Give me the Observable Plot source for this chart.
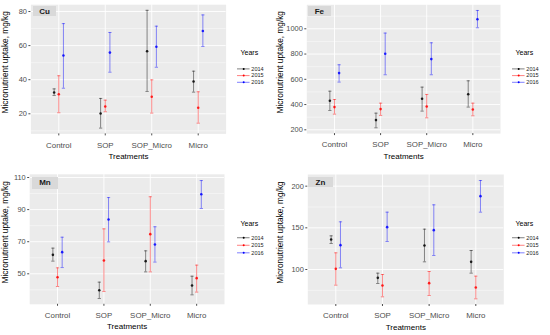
<!DOCTYPE html>
<html>
<head>
<meta charset="utf-8">
<script src="https://cdn.jsdelivr.net/npm/d3@7"></script>
<script src="https://cdn.jsdelivr.net/npm/@observablehq/plot@0.6"></script>
<style>
  html, body { margin: 0; padding: 0; background: #ffffff; }
  #root { position: relative; width: 550px; height: 335px; font-family: "Liberation Sans", Arial, sans-serif; }
  .cell { position: absolute; }
  .strip { position: absolute; background: #d9d9d9; color: #1a1a1a; font-weight: bold; font-size: 8px; display: flex; align-items: center; justify-content: center; }
</style>
</head>
<body>
<div id="root"></div>
<script>
// ---------- data ----------
const treatments = ["Control", "SOP", "SOP_Micro", "Micro"];
const years = ["2014", "2015", "2016"];
const yearColors = ["#000000", "#ff0000", "#0000ff"];

// order: Control(2014,2015,2016), SOP(...), SOP_Micro(...), Micro(...)
const cuMean = [32.5, 31.5, 54.2, 20.2, 24.3, 55.9, 56.7, 30.0, 59.3, 38.9, 23.5, 68.6];
const cuLow  = [30.7, 20.6, 35.0, 11.6, 21.2, 44.4, 33.1, 20.4, 47.3, 32.7, 14.5, 59.5];
const cuHigh = [34.6, 42.3, 72.9, 29.0, 28.0, 67.7, 80.7, 39.9, 71.4, 45.0, 32.9, 78.0];

const feMean = [430, 380, 649, 277, 364, 802, 446, 385, 760, 482, 361, 1076];
const feLow  = [353, 324, 578, 216, 314, 636, 348, 295, 636, 380, 311, 1008];
const feHigh = [506, 440, 715, 332, 411, 966, 538, 480, 889, 588, 411, 1145];

const mnMean = [61.8, 47.9, 63.5, 39.8, 58.3, 83.8, 57.9, 74.7, 68.3, 42.7, 47.3, 99.6];
const mnLow  = [57.9, 42.1, 53.9, 34.6, 39.0, 69.9, 51.2, 51.2, 57.3, 36.9, 38.6, 90.7];
const mnHigh = [66.0, 53.7, 72.8, 44.8, 78.0, 97.5, 64.3, 98.0, 79.3, 48.5, 55.4, 108.1];

const znMean = [136.0, 100.8, 129.2, 90.0, 80.8, 150.8, 128.8, 83.6, 147.2, 109.2, 78.4, 188.0];
const znLow  = [131.2, 81.2, 102.0, 83.2, 67.2, 133.6, 109.2, 68.8, 116.8, 95.6, 64.8, 168.8];
const znHigh = [140.4, 120.0, 157.2, 95.6, 94.0, 168.8, 148.4, 97.6, 177.6, 122.8, 92.0, 206.8];

const cuTicks = [20, 40, 60, 80], cuMinor = [10, 30, 50, 70];
const feTicks = [200, 400, 600, 800, 1000], feMinor = [300, 500, 700, 900, 1100];
const mnTicks = [50, 70, 90, 110], mnMinor = [40, 60, 80, 100];
const znTicks = [100, 150, 200], znMinor = [75, 125, 175];

const yTitle = "Micronutrient uptake, mg/kg";
const xTitle = "Treatments";
const legendTitle = "Years";

// ---------- helpers ----------
const FONT = '"Liberation Sans", Arial, sans-serif';
const dodge = 0.1;
const capHalf = 0.035;

function table(mean, low, high) {
  return treatments.flatMap((t, i) => years.map((yr, j) => {
    const k = i * years.length + j;
    return { treatment: t, year: yr, xi: i + 1 + (j - 1) * dodge, mean: mean[k], low: low[k], high: high[k] };
  }));
}

const colorScale = { domain: years, range: yearColors };

function panelPlot(cfg) {
  const data = table(cfg.mean, cfg.low, cfg.high);
  return Plot.plot({
    width: 275, height: 167,
    marginLeft: cfg.m[0], marginRight: cfg.m[1], marginTop: cfg.m[2], marginBottom: cfg.m[3],
    style: { background: "transparent", fontFamily: FONT, fontSize: "7.4px", overflow: "visible" },
    x: { type: "linear", domain: [0.4, 4.6] },
    y: { type: "linear", domain: cfg.domain },
    color: colorScale,
    marks: [
      Plot.frame({ fill: "#ebebeb", stroke: "none" }),
      Plot.gridY(cfg.minor.filter(v => v > cfg.domain[0] && v < cfg.domain[1]), { stroke: "#ffffff", strokeOpacity: 1, strokeWidth: 0.45 }),
      Plot.gridY(cfg.ticks, { stroke: "#ffffff", strokeOpacity: 1, strokeWidth: 0.9 }),
      Plot.gridX([1, 2, 3, 4], { stroke: "#ffffff", strokeOpacity: 1, strokeWidth: 0.9 }),
      Plot.axisY({ ticks: cfg.ticks, tickFormat: d => String(d), tickSize: 2, tickPadding: 2, color: "#4d4d4d", label: null }),
      Plot.axisX({ ticks: [1, 2, 3, 4], tickFormat: i => treatments[i - 1], tickSize: 2, tickPadding: 6, color: "#4d4d4d", label: null, fontSize: 7.9 }),
      Plot.ruleX(data, { x: "xi", y1: "low", y2: "high", stroke: "year", strokeOpacity: 0.45, strokeWidth: 1 }),
      Plot.link(data, { x1: d => d.xi - capHalf, x2: d => d.xi + capHalf, y1: "high", y2: "high", stroke: "year", strokeOpacity: 0.45, strokeWidth: 1 }),
      Plot.link(data, { x1: d => d.xi - capHalf, x2: d => d.xi + capHalf, y1: "low", y2: "low", stroke: "year", strokeOpacity: 0.45, strokeWidth: 1 }),
      Plot.dot(data, { x: "xi", y: "mean", fill: "year", r: 1.3, fillOpacity: 0.85 }),
      Plot.text([xTitle], { frameAnchor: "bottom", textAnchor: "middle", dy: 22.5, lineAnchor: "middle", fill: "#000000", fontSize: 8 }),
      Plot.text([yTitle], { frameAnchor: "left", textAnchor: "middle", rotate: -90, dx: 4.8 - cfg.m[0], dy: -7, lineAnchor: "middle", fill: "#000000", fontSize: 8.3 })
    ]
  });
}

function legendPlot(cfg) {
  return Plot.plot({
    width: 45, height: 64,
    marginLeft: 0, marginRight: 30, marginTop: 0, marginBottom: 0,
    style: { background: "transparent", fontFamily: FONT, fontSize: "6.6px", overflow: "visible" },
    y: { type: "point", domain: years, range: cfg.range, axis: null },
    color: colorScale,
    marks: [
      Plot.ruleY(years, { y: d => d, stroke: d => d, strokeOpacity: 0.6, strokeWidth: 1 }),
      Plot.dot(years, { y: d => d, fill: d => d, r: 1.2 }),
      Plot.text(years, { y: d => d, text: d => d, frameAnchor: "right", textAnchor: "start", dx: 1.6, fill: "#1a1a1a" }),
      Plot.text([legendTitle], { frameAnchor: "top-left", textAnchor: "start", lineAnchor: "middle", dx: 3.7, dy: cfg.titleY, fontSize: 8.4, fill: "#000000" })
    ]
  });
}

const panels = [
  { name: "Cu", left: 0, top: 0, mean: cuMean, low: cuLow, high: cuHigh, domain: [8.2, 84], ticks: cuTicks, minor: cuMinor,
    m: [30.4, 49.4, 4.2, 33.6], strip: [33.3, 6, 22.7, 10], legend: { range: [29, 55.7], titleY: 15 } },
  { name: "Fe", left: 275, top: 0, mean: feMean, low: feLow, high: feHigh, domain: [170, 1190], ticks: feTicks, minor: feMinor,
    m: [31.3, 50, 4.3, 33.9], strip: [32.7, 6, 23.3, 10], legend: { range: [29, 55.7], titleY: 15 } },
  { name: "Mn", left: 0, top: 168, mean: mnMean, low: mnLow, high: mnHigh, domain: [31, 112], ticks: mnTicks, minor: mnMinor,
    m: [29.2, 51, 5.8, 31.2], strip: [31.7, 9.3, 26.6, 11.4], legend: { range: [30.3, 58.5], titleY: 17.7 } },
  { name: "Zn", left: 275, top: 168, mean: znMean, low: znLow, high: znHigh, domain: [58, 214], ticks: znTicks, minor: znMinor,
    m: [32.3, 46.7, 6, 31], strip: [33.3, 9.3, 24.4, 10], legend: { range: [30.3, 58.5], titleY: 17.7 } }
];

const root = document.getElementById("root");
for (const p of panels) {
  const cell = document.createElement("div");
  cell.className = "cell";
  cell.style.left = p.left + "px";
  cell.style.top = p.top + "px";
  cell.style.width = "275px";
  cell.style.height = "167px";
  cell.appendChild(panelPlot(p));
  const strip = document.createElement("div");
  strip.className = "strip";
  strip.style.left = p.strip[0] + "px";
  strip.style.top = p.strip[1] + "px";
  strip.style.width = p.strip[2] + "px";
  strip.style.height = p.strip[3] + "px";
  strip.textContent = p.name;
  cell.appendChild(strip);
  const leg = document.createElement("div");
  leg.className = "cell";
  leg.style.left = "237.3px";
  leg.style.top = "40px";
  leg.appendChild(legendPlot(p.legend));
  cell.appendChild(leg);
  root.appendChild(cell);
}
</script>
</body>
</html>
